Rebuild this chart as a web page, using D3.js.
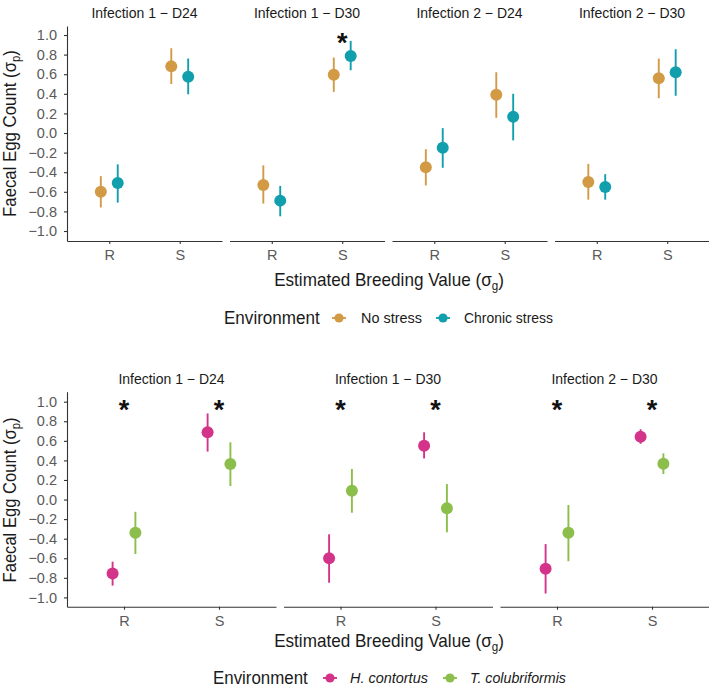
<!DOCTYPE html>
<html><head><meta charset="utf-8">
<script src="https://cdn.jsdelivr.net/npm/d3@7"></script>
<style>body{margin:0;background:#fff}svg{display:block}text{font-family:"Liberation Sans",Arial,sans-serif}</style>
</head><body><svg id="c" width="709" height="689"></svg>
<script>
// ---------- DATA ----------
const groups = ["R", "S"];
const yTicks = [-1.0, -0.8, -0.6, -0.4, -0.2, 0.0, 0.2, 0.4, 0.6, 0.8, 1.0];

// Top chart
const topPanels = ["Infection 1 − D24", "Infection 1 − D30", "Infection 2 − D24", "Infection 2 − D30"];
const topSeries = ["No stress", "Chronic stress"];
const topColors = ["#D39A45", "#119FAD"];
// [R, S] for each panel
const noStressMean = [[-0.60, 0.68], [-0.53, 0.595], [-0.35, 0.39], [-0.50, 0.56]];
const noStressLow  = [[-0.76, 0.50], [-0.72, 0.42], [-0.535, 0.155], [-0.68, 0.355]];
const noStressHigh = [[-0.44, 0.865], [-0.33, 0.77], [-0.165, 0.62], [-0.315, 0.76]];
const chronicMean  = [[-0.51, 0.575], [-0.69, 0.785], [-0.15, 0.165], [-0.55, 0.62]];
const chronicLow   = [[-0.71, 0.395], [-0.85, 0.64], [-0.355, -0.075], [-0.68, 0.38]];
const chronicHigh  = [[-0.32, 0.76], [-0.54, 0.94], [0.05, 0.40], [-0.42, 0.855]];
const topStars = [[false, false], [false, true], [false, false], [false, false]];

// Bottom chart
const botPanels = ["Infection 1 − D24", "Infection 1 − D30", "Infection 2 − D30"];
const botSeries = ["H. contortus", "T. colubriformis"];
const botColors = ["#D3348A", "#8CBE4C"];
const hcMean = [[-0.755, 0.687], [-0.60, 0.55], [-0.707, 0.642]];
const hcLow  = [[-0.88, 0.49], [-0.85, 0.42], [-0.96, 0.57]];
const hcHigh = [[-0.635, 0.88], [-0.355, 0.687], [-0.455, 0.718]];
const tcMean = [[-0.34, 0.363], [0.09, -0.09], [-0.34, 0.366]];
const tcLow  = [[-0.557, 0.138], [-0.135, -0.335], [-0.63, 0.26]];
const tcHigh = [[-0.125, 0.585], [0.312, 0.158], [-0.056, 0.472]];
const botStars = [[true, true], [true, true], [true, true]];

// ---------- DRAW ----------
const svg = d3.select("#c");
svg.append("rect").attr("width", 709).attr("height", 689).attr("fill", "#fff");

function records(means, lows, highs) {
  const out = [];
  means.forEach((pm, p) => pm.forEach((m, g) => out.push({p, g: groups[g], m, lo: lows[p][g], hi: highs[p][g]})));
  return out;
}

// text squeezed horizontally to a target width (the original uses a condensed face)
function fitText(parent, {x, y, rot = 0, anchor = "middle", size, width, parts, italic = false}) {
  const g = parent.append("g");
  const t = g.append("text").attr("text-anchor", anchor).attr("font-size", size).attr("fill", "#1a1a1a")
    .attr("font-style", italic ? "italic" : "normal");
  parts.forEach(pt => {
    const ts = t.append("tspan").text(pt.t);
    if (pt.sub) ts.attr("font-size", size * 0.68).attr("dy", 4);
    if (pt.up) ts.attr("dy", -4);
  });
  const w = t.node().getBBox().width;
  const sx = width / w;
  g.attr("transform", `translate(${x},${y}) rotate(${rot}) scale(${sx},1)`);
  return g;
}

function drawRow(cfg) {
  const {panels, seriesData, colors, stars, left, pitch, width, top, bottom, yDomain, titleY, xTitleY, legendY, L, labels, italic, yLab} = cfg;
  const y = d3.scaleLinear().domain(yDomain).range([bottom, top]);
  const g = svg.append("g");

  const ya = g.append("g").attr("transform", `translate(${left},0)`)
    .call(d3.axisLeft(y).tickValues(yTicks).tickFormat(d3.format(".1f")).tickSize(3).tickPadding(7).tickSizeOuter(0));
  ya.select(".domain").attr("stroke", "#333").attr("stroke-width", 1.1);
  ya.selectAll(".tick line").attr("stroke", "#333").attr("stroke-width", 1.1);
  ya.selectAll(".tick text").attr("fill", "#5a5a5a").attr("font-size", 14.5).attr("font-family", "Liberation Sans, Arial, sans-serif");

  panels.forEach((title, p) => {
    const x0 = left + p * pitch;
    const x = d3.scalePoint().domain(groups).range([x0, x0 + width]).padding(0.6);
    const dodge = 0.12 * x.step();
    const xa = g.append("g").attr("transform", `translate(0,${bottom})`)
      .call(d3.axisBottom(x).tickSize(3).tickPadding(6).tickSizeOuter(0));
    xa.select(".domain").attr("stroke", "#333").attr("stroke-width", 1.1);
    xa.selectAll(".tick line").attr("stroke", "#333").attr("stroke-width", 1.1);
    xa.selectAll(".tick text").attr("fill", "#5a5a5a").attr("font-size", 14.5).attr("font-family", "Liberation Sans, Arial, sans-serif");

    g.append("text").attr("x", x0 + width / 2).attr("y", titleY).attr("text-anchor", "middle")
      .attr("font-size", 14).attr("fill", "#1a1a1a").text(title);

    seriesData.forEach((recs, s) => {
      const off = (s === 0 ? -1 : 1) * dodge;
      const rs = recs.filter(r => r.p === p);
      g.selectAll(null).data(rs).enter().append("line")
        .attr("x1", d => x(d.g) + off).attr("x2", d => x(d.g) + off)
        .attr("y1", d => y(d.lo)).attr("y2", d => y(d.hi))
        .attr("stroke", colors[s]).attr("stroke-width", 1.9);
      g.selectAll(null).data(rs).enter().append("circle")
        .attr("cx", d => x(d.g) + off).attr("cy", d => y(d.m)).attr("r", 6)
        .attr("fill", colors[s]);
    });

    groups.forEach((gr, gi) => {
      if (stars[p][gi]) {
        g.append("text").attr("x", x(gr)).attr("y", y(0.96) + 13).attr("text-anchor", "middle")
          .attr("font-size", 27).attr("font-weight", "bold").attr("fill", "#111").text("*");
      }
    });
  });

  fitText(g, {x: 15.5, y: yLab.c, rot: -90, size: 17.5, width: yLab.w,
    parts: [{t: "Faecal Egg Count (σ"}, {t: "p", sub: true}, {t: ")", up: true}]});

  fitText(g, {x: 389, y: xTitleY, size: 17.5, width: 230,
    parts: [{t: "Estimated Breeding Value (σ"}, {t: "g", sub: true}, {t: ")", up: true}]});

  fitText(g, {x: L.title, y: legendY + 6, anchor: "start", size: 17.5, width: L.titleW, parts: [{t: "Environment"}]});
  labels.forEach((lab, s) => {
    const kx = L.keys[s];
    g.append("line").attr("x1", kx - 7).attr("x2", kx + 7).attr("y1", legendY).attr("y2", legendY)
      .attr("stroke", colors[s]).attr("stroke-width", 1.9);
    g.append("circle").attr("cx", kx).attr("cy", legendY).attr("r", 4.6).attr("fill", colors[s]);
    fitText(g, {x: L.texts[s], y: legendY + 5, anchor: "start", size: 14, width: L.widths[s], parts: [{t: lab}], italic});
  });
}

drawRow({
  panels: topPanels,
  seriesData: [records(noStressMean, noStressLow, noStressHigh), records(chronicMean, chronicLow, chronicHigh)],
  colors: topColors, stars: topStars, labels: topSeries, italic: false,
  left: 67, pitch: 162.5, width: 155, top: 26, bottom: 241, yDomain: [-1.102, 1.092],
  titleY: 18, xTitleY: 286, legendY: 318, yLab: {c: 133.5, w: 167},
  L: {title: 224, titleW: 96, keys: [339, 443], texts: [361, 464], widths: [61, 89]}
});

drawRow({
  panels: botPanels,
  seriesData: [records(hcMean, hcLow, hcHigh), records(tcMean, tcLow, tcHigh)],
  colors: botColors, stars: botStars, labels: botSeries, italic: true,
  left: 67, pitch: 216.5, width: 209, top: 391.7, bottom: 606.7, yDomain: [-1.095, 1.102],
  titleY: 384, xTitleY: 647, legendY: 678, yLab: {c: 500, w: 165},
  L: {title: 213, titleW: 95, keys: [330, 450], texts: [350, 470], widths: [78, 96]}
});
</script></body></html>
